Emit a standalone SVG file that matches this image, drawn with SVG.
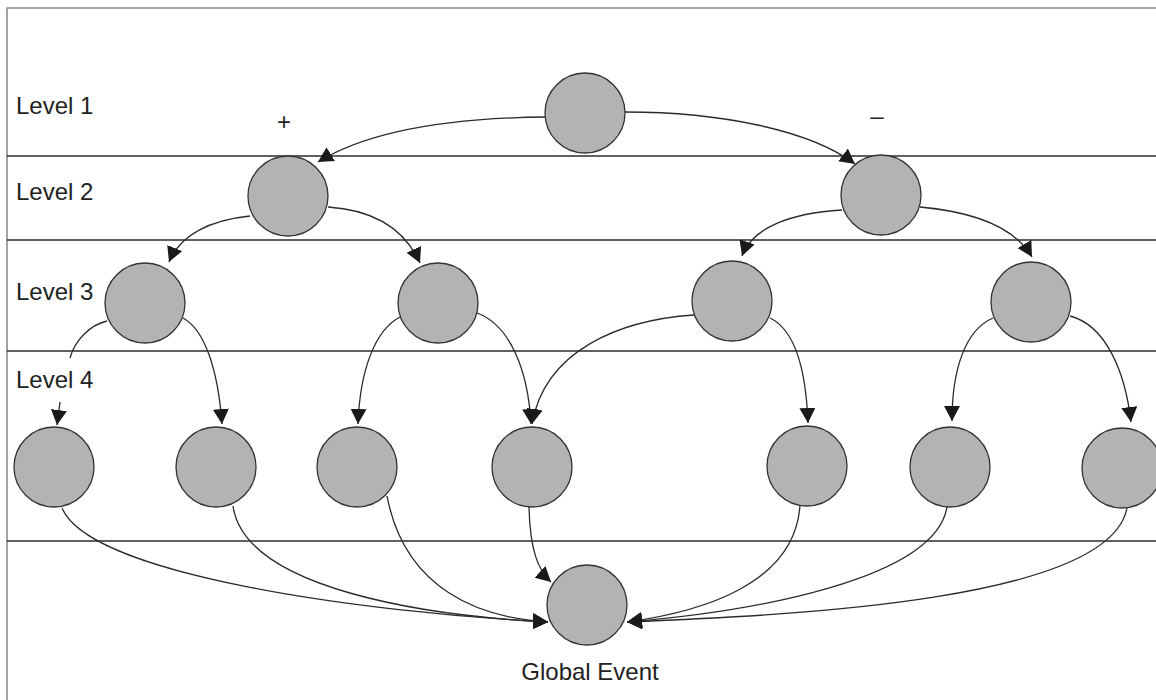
<svg xmlns="http://www.w3.org/2000/svg" width="1156" height="700" viewBox="0 0 1156 700">
  <style>
    .frame { stroke: #8c8c8c; stroke-width: 1.6; fill: none; }
    .band { stroke: #2b2b2b; stroke-width: 1.5; fill: none; }
    .node { fill: #b2b3b5; stroke: #333; stroke-width: 1.3; }
    .edge { fill: none; stroke: #2b2b2b; stroke-width: 1.3; marker-end: url(#arrow); }
    .label { font-family: "Liberation Sans", Arial, sans-serif; font-size: 24px; fill: #222; }
  </style>
  <defs>
    <marker id="arrow" markerUnits="userSpaceOnUse" markerWidth="18" markerHeight="18" refX="15" refY="8" orient="auto">
      <path d="M0,0 L15,8 L0,16 z" fill="#1a1a1a"/>
    </marker>
  </defs>

  <rect width="1156" height="700" fill="#fff"/>

  <!-- outer frame (top and left edges) -->
  <path class="frame" d="M7,700 L7,8 L1156,8"/>

  <!-- level separators -->
  <g id="bands">
    <line class="band" x1="7" y1="156" x2="1156" y2="156"/>
    <line class="band" x1="7" y1="240" x2="1156" y2="240"/>
    <line class="band" x1="7" y1="351" x2="1156" y2="351"/>
    <line class="band" x1="7" y1="541" x2="1156" y2="541"/>
  </g>

  <!-- level labels and signs -->
  <g id="labels" class="label">
    <text x="16" y="114">Level 1</text>
    <text x="16" y="200">Level 2</text>
    <text x="16" y="300">Level 3</text>
    <text x="16" y="388">Level 4</text>
    <text x="284" y="130" text-anchor="middle">+</text>
    <text x="877" y="124" text-anchor="middle">–</text>
    <text x="590" y="680" text-anchor="middle">Global Event</text>
  </g>

  <!-- connectors -->
  <g id="connectors">
    <path class="edge" d="M545,117 C450,118 370,130 318,162"/>
    <path class="edge" d="M625,112 C720,112 810,130 855,164"/>
    <path class="edge" d="M250,216 C210,220 180,235 169,262"/>
    <path class="edge" d="M328,207 C375,210 405,230 420,263"/>
    <path class="edge" d="M842,210 C790,213 752,228 742,256"/>
    <path class="edge" d="M920,207 C975,212 1015,228 1032,257"/>
    <path class="edge" d="M107,321 C90,325 75,340 70,358 M60,402 L57,425"/>
    <path class="edge" d="M183,318 C205,330 218,370 222,424"/>
    <path class="edge" d="M400,317 C375,330 360,370 358,424"/>
    <path class="edge" d="M477,313 C510,325 528,370 531,424"/>
    <path class="edge" d="M694,315 C620,320 545,350 532,424"/>
    <path class="edge" d="M770,318 C795,330 806,370 808,423"/>
    <path class="edge" d="M993,318 C965,330 952,370 952,421"/>
    <path class="edge" d="M1070,316 C1105,325 1125,370 1131,422"/>
    <path class="edge" d="M62,508 C90,575 360,612 548,622"/>
    <path class="edge" d="M233,506 C245,590 430,616 548,622"/>
    <path class="edge" d="M387,496 C405,590 480,618 548,622"/>
    <path class="edge" d="M529,507 C530,550 538,570 551,582"/>
    <path class="edge" d="M800,505 C795,585 700,612 627,622"/>
    <path class="edge" d="M947,507 C935,580 750,612 627,622"/>
    <path class="edge" d="M1127,508 C1110,600 800,615 627,622"/>
  </g>

  <!-- nodes -->
  <g id="n1"><circle class="node" cx="585" cy="113" r="40"/></g>
  <g id="n2a"><circle class="node" cx="288" cy="196" r="40"/></g>
  <g id="n2b"><circle class="node" cx="881" cy="195" r="40"/></g>
  <g id="n3a"><circle class="node" cx="145" cy="303" r="40"/></g>
  <g id="n3b"><circle class="node" cx="438" cy="303" r="40"/></g>
  <g id="n3c"><circle class="node" cx="732" cy="301" r="40"/></g>
  <g id="n3d"><circle class="node" cx="1031" cy="302" r="40"/></g>
  <g id="n4a"><circle class="node" cx="54" cy="467" r="40"/></g>
  <g id="n4b"><circle class="node" cx="216" cy="467" r="40"/></g>
  <g id="n4c"><circle class="node" cx="357" cy="467" r="40"/></g>
  <g id="n4d"><circle class="node" cx="532" cy="467" r="40"/></g>
  <g id="n4e"><circle class="node" cx="807" cy="466" r="40"/></g>
  <g id="n4f"><circle class="node" cx="950" cy="467" r="40"/></g>
  <g id="n4g"><circle class="node" cx="1122" cy="468" r="40"/></g>
  <g id="global"><circle class="node" cx="587" cy="605" r="40"/></g>
</svg>
